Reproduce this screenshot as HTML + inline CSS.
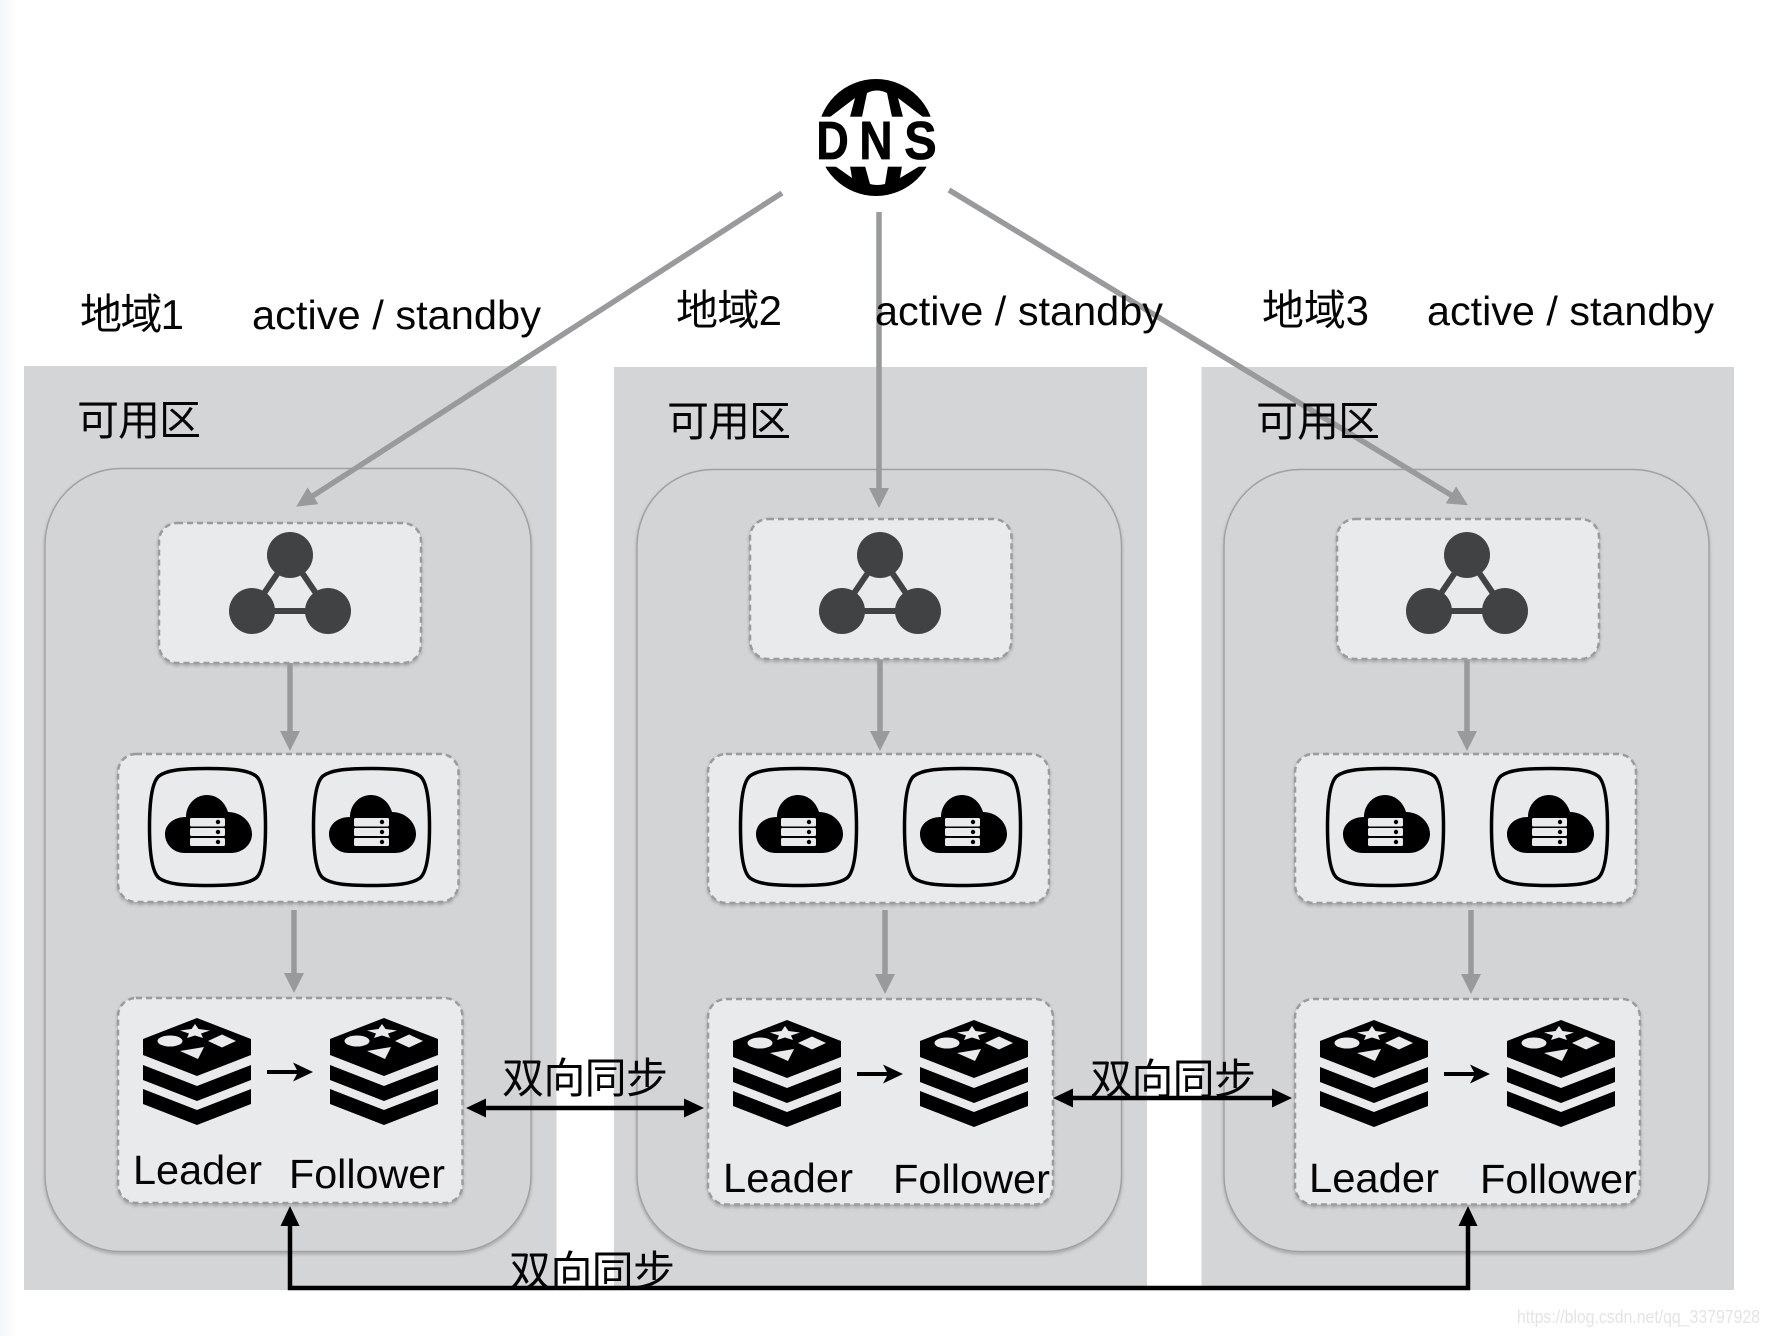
<!DOCTYPE html>
<html lang="zh">
<head>
<meta charset="utf-8">
<title>DNS active / standby</title>
<style>
html,body{margin:0;padding:0;background:#fff;width:1770px;height:1336px;overflow:hidden}
svg{display:block}
text{font-family:"Liberation Sans","Noto Sans CJK SC",sans-serif;font-size:41px;fill:#050505}
text.c{font-size:42px}
</style>
</head>
<body>
<svg xmlns="http://www.w3.org/2000/svg" width="1770" height="1336" viewBox="0 0 1770 1336">
<defs>
  <linearGradient id="edge" x1="0" x2="1" y1="0" y2="0">
    <stop offset="0" stop-color="#f4f6f8"/><stop offset="1" stop-color="#ffffff"/>
  </linearGradient>
  <filter id="sh" x="-5%" y="-5%" width="110%" height="110%">
    <feDropShadow dx="0" dy="2" stdDeviation="1.5" flood-color="#000" flood-opacity=".22"/>
  </filter>
  <marker id="g" markerUnits="userSpaceOnUse" markerWidth="24" markerHeight="24" refX="6" refY="11" orient="auto">
    <path d="M0,1 L20,11 L0,21Z" fill="#999a9c"/>
  </marker>
  <marker id="k" markerUnits="userSpaceOnUse" markerWidth="24" markerHeight="24" refX="6" refY="11" orient="auto-start-reverse">
    <path d="M0,1.5 L20,11 L0,20.5Z" fill="#000"/>
  </marker>
  <g id="tri">
    <path d="M38,0 L0,56 L76,56Z" fill="none" stroke="#414244" stroke-width="6"/>
    <ellipse cx="38" cy="0" rx="23" ry="23" fill="#414244"/>
    <ellipse cx="0" cy="56" rx="23" ry="23" fill="#414244"/>
    <ellipse cx="76" cy="56" rx="23" ry="23" fill="#414244"/>
  </g>
  <g id="tile">
    <path d="M59.5 1.5C85 1.5 100 3 108 9C114 14 117.500 30 117.500 60C117.500 90 114 106 108 111C100 117 85 118.500 59.500 118.500C34 118.500 19 117 11 111C5 106 1.500 90 1.500 60C1.500 30 5 14 11 9C19 3 34 1.500 59.500 1.500Z" fill="none" stroke="#000" stroke-width="3.5"/>
    <path d="M37 86C25 86 17 77 17 67C17 58 25 50 38 50C38 38 47 28 59 28C69 28 77 35 80 45C93 45 104 55 104 67C104 78 94 86 83 86Z" fill="#000"/>
    <rect x="42" y="51" width="35" height="8.500" rx="1.500" fill="#e9eaec"/>
    <rect x="42" y="61" width="35" height="8" rx="1.500" fill="#e9eaec"/>
    <rect x="42" y="71" width="35" height="8" rx="1.500" fill="#e9eaec"/>
    <circle cx="70" cy="55" r="2.200" fill="#000"/>
    <circle cx="70" cy="65" r="2.200" fill="#000"/>
    <circle cx="70" cy="75" r="2.200" fill="#000"/>
  </g>
  <g id="redis">
    <path d="M54 0L108 21V37L54 58L0 37V21Z" fill="#000"/>
    <path d="M0 47L54 68L108 47V62L54 83L0 62Z" fill="#000"/>
    <path d="M0 71L54 92L108 71V86L54 107L0 86Z" fill="#000"/>
    <ellipse cx="27" cy="23" rx="12.500" ry="5.500" fill="#e9eaec"/>
    <path d="M79 16.500L93 23L79 29.500L65 23Z" fill="#e9eaec"/>
    <path d="M37 33L61 29L55 41Z" fill="#e9eaec"/>
    <path d="M52 6L55.500 11L67 12.500L58 15.500L60 20L52 17.500L44 20L46 15.500L37 12.500L48.500 11Z" fill="#e9eaec"/>
  </g>
  <g id="box3">
    <use href="#redis" x="0" y="0"/>
    <use href="#redis" x="187" y="0"/>
    <path d="M124 54H157" stroke="#000" stroke-width="4"/>
    <path d="M150 44.500L170 54L150 63.500L155 54Z" fill="#000"/>
  </g>
</defs>

<rect width="1770" height="1336" fill="#fff"/>
<rect width="18" height="1336" fill="url(#edge)"/>

<!-- regions -->
<rect x="24" y="366" width="532.500" height="924" fill="#d4d5d7"/>
<rect x="614" y="367" width="533" height="923" fill="#d4d5d7"/>
<rect x="1201.500" y="367" width="532.500" height="923" fill="#d4d5d7"/>

<g fill="#d3d4d6" stroke="#a0a1a3" stroke-width="1.500" filter="url(#sh)">
  <rect x="45" y="468.500" width="486" height="783" rx="76"/>
  <rect x="637" y="469.500" width="484.500" height="782" rx="76"/>
  <rect x="1224" y="469.500" width="485" height="782" rx="76"/>
</g>

<!-- dashed boxes -->
<g fill="#e9eaec" stroke="#9a9b9d" stroke-width="2.500" stroke-dasharray="6 4" filter="url(#sh)">
  <rect x="159" y="523" width="262" height="140" rx="18"/>
  <rect x="750" y="519" width="261.500" height="140" rx="18"/>
  <rect x="1337" y="519" width="262" height="140" rx="18"/>
  <rect x="118" y="754" width="340.500" height="148" rx="18"/>
  <rect x="708" y="754" width="341" height="149" rx="18"/>
  <rect x="1295" y="754" width="341" height="149" rx="18"/>
  <rect x="118" y="998" width="344.500" height="205" rx="18"/>
  <rect x="708" y="999" width="345" height="205.500" rx="18"/>
  <rect x="1295" y="999" width="345" height="205.500" rx="18"/>
</g>

<!-- icons -->
<use href="#tri" x="252" y="555"/>
<use href="#tri" x="842" y="555"/>
<use href="#tri" x="1429" y="555"/>

<use href="#tile" x="148" y="767"/>
<use href="#tile" x="312" y="767"/>
<use href="#tile" x="739" y="767"/>
<use href="#tile" x="903" y="767"/>
<use href="#tile" x="1326" y="767"/>
<use href="#tile" x="1490" y="767"/>

<use href="#box3" x="143" y="1018"/>
<use href="#box3" x="733" y="1020"/>
<use href="#box3" x="1320" y="1020"/>

<!-- grey connectors -->
<g stroke="#999a9c" stroke-width="5.500" fill="none">
  <line x1="782" y1="193" x2="308" y2="499" marker-end="url(#g)"/>
  <line x1="879" y1="212" x2="879" y2="494" marker-end="url(#g)"/>
  <line x1="949" y1="190" x2="1456" y2="498" marker-end="url(#g)"/>
  <line x1="290" y1="663" x2="290" y2="737" marker-end="url(#g)"/>
  <line x1="294" y1="910" x2="294" y2="979" marker-end="url(#g)"/>
  <line x1="880" y1="660" x2="880" y2="737" marker-end="url(#g)"/>
  <line x1="885" y1="910" x2="885" y2="980" marker-end="url(#g)"/>
  <line x1="1467" y1="660" x2="1467" y2="737" marker-end="url(#g)"/>
  <line x1="1471" y1="910" x2="1471" y2="980" marker-end="url(#g)"/>
</g>

<!-- black connectors -->
<g stroke="#000" stroke-width="4.500" fill="none">
  <line x1="480" y1="1108" x2="690" y2="1108" marker-start="url(#k)" marker-end="url(#k)"/>
  <line x1="1067" y1="1098" x2="1278" y2="1098" marker-start="url(#k)" marker-end="url(#k)"/>
  <path d="M290 1220V1288H1468V1220" marker-start="url(#k)" marker-end="url(#k)"/>
</g>

<!-- DNS icon -->
<circle cx="876" cy="137.500" r="58.500" fill="#000"/>
<rect x="812" y="116.700" width="130" height="50" fill="#fff"/>
<g fill="#fff">
  <path d="M867 93Q877 88 887 93L892 117H862Z"/>
  <path d="M855 98L850 117H830Z"/>
  <path d="M898 98L903 117H923Z"/>
  <path d="M865 166H888L885 184Q877 186 870 184Z"/>
  <path d="M852 178L850 166H835Z"/>
  <path d="M900 178L902 166H920Z"/>
</g>
<g text-anchor="middle">
  <text transform="translate(832.500 159) scale(.83 1)" style="font-size:54px;font-weight:700;fill:#000;stroke:#000;stroke-width:.8">D</text>
  <text transform="translate(876 159) scale(.85 1)" style="font-size:54px;font-weight:700;fill:#000;stroke:#000;stroke-width:.8">N</text>
  <text transform="translate(920.500 159) scale(.9 1)" style="font-size:54px;font-weight:700;fill:#000;stroke:#000;stroke-width:.8">S</text>
</g>

<!-- labels -->
<text class="c" x="80" y="329" textLength="104">地域1</text>
<text x="252" y="329" textLength="289" lengthAdjust="spacingAndGlyphs">active / standby</text>
<text class="c" x="676" y="325" textLength="106">地域2</text>
<text x="875" y="325" textLength="288" lengthAdjust="spacingAndGlyphs">active / standby</text>
<text class="c" x="1262" y="325" textLength="107">地域3</text>
<text x="1427" y="325" textLength="287" lengthAdjust="spacingAndGlyphs">active / standby</text>

<text class="c" x="77" y="435" textLength="124">可用区</text>
<text class="c" x="667" y="436" textLength="124">可用区</text>
<text class="c" x="1256" y="436" textLength="124">可用区</text>

<text x="133" y="1184" textLength="129" lengthAdjust="spacingAndGlyphs">Leader</text>
<text x="289" y="1188" textLength="156" lengthAdjust="spacingAndGlyphs">Follower</text>
<text x="723" y="1192" textLength="130" lengthAdjust="spacingAndGlyphs">Leader</text>
<text x="893" y="1193" textLength="157" lengthAdjust="spacingAndGlyphs">Follower</text>
<text x="1309" y="1192" textLength="130" lengthAdjust="spacingAndGlyphs">Leader</text>
<text x="1480" y="1193" textLength="157" lengthAdjust="spacingAndGlyphs">Follower</text>

<text class="c" x="502" y="1093" textLength="166">双向同步</text>
<text class="c" x="1090" y="1094" textLength="166">双向同步</text>
<text class="c" x="509" y="1286" textLength="166">双向同步</text>

<text x="1517" y="1323" textLength="243" lengthAdjust="spacingAndGlyphs" style="font-size:18px;fill:#e4e4e4">https://blog.csdn.net/qq_33797928</text>
</svg>
</body>
</html>
